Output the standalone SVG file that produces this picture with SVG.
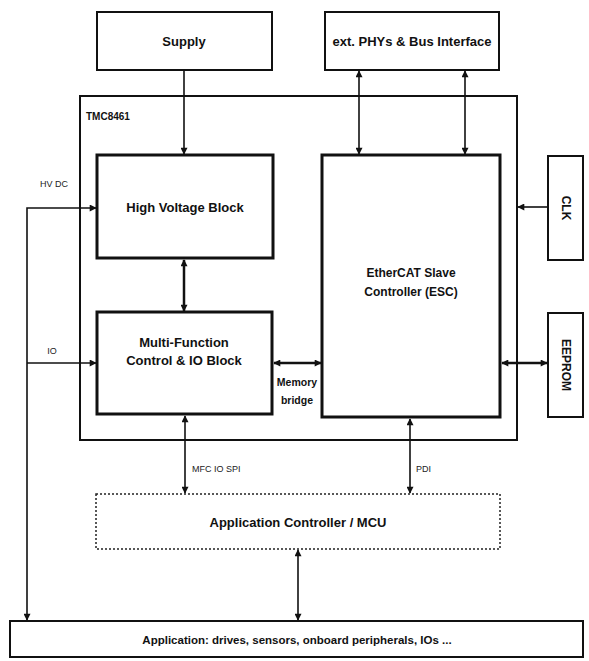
<svg xmlns="http://www.w3.org/2000/svg" width="589" height="661" viewBox="0 0 589 661">
<style>
.box{fill:#fff;stroke:#111;stroke-width:2}
.blk{fill:#fff;stroke:#111;stroke-width:3}
.dot{fill:#fff;stroke:#222;stroke-width:1.5;stroke-dasharray:2 2}
.t{font-family:"Liberation Sans",Arial,sans-serif;font-weight:bold;font-size:12px;fill:#111;text-anchor:middle}
.s{font-family:"Liberation Sans",Arial,sans-serif;font-size:9px;fill:#222;text-anchor:middle}
.c{fill:none;stroke:#111;stroke-width:1.6}
.cb{fill:none;stroke:#111;stroke-width:2.5}
</style>
<defs>
<marker id="ah" viewBox="0 0 10 10" refX="9" refY="5" markerWidth="10" markerHeight="7" markerUnits="userSpaceOnUse" orient="auto-start-reverse">
<path d="M0,0 L10,5 L0,10 Z" fill="#111"/>
</marker>
</defs>
<rect width="589" height="661" fill="#fff"/>
<g id="tmc8461">
<rect x="80" y="96" width="437" height="344" class="box"/>
<text x="86" y="120" class="t" style="text-anchor:start;font-size:10px">TMC8461</text>
</g>
<g id="supply">
<rect x="97" y="12" width="175" height="58" class="box"/>
<text x="184" y="46" class="t" style="font-size:13px">Supply</text>
</g>
<g id="phys">
<rect x="325" y="12" width="174" height="58" class="box"/>
<text x="412" y="46" class="t" style="font-size:13px">ext. PHYs &amp; Bus Interface</text>
</g>
<g id="hv">
<rect x="97" y="155" width="176" height="103" class="blk"/>
<text x="185" y="212" class="t" style="font-size:13px">High Voltage Block</text>
</g>
<g id="mf">
<rect x="97" y="312" width="175" height="102" class="blk"/>
<text x="184" y="347" class="t" style="font-size:13px">Multi-Function</text>
<text x="184" y="365" class="t" style="font-size:13px">Control &amp; IO Block</text>
</g>
<g id="esc">
<rect x="322" y="155" width="178" height="262" class="blk"/>
<text x="411" y="277" class="t">EtherCAT Slave</text>
<text x="411" y="296" class="t">Controller (ESC)</text>
</g>
<g id="clk">
<rect x="548" y="156" width="35" height="104" class="box"/>
<text x="566" y="208" class="t" transform="rotate(90 566 208)" dy="4">CLK</text>
</g>
<g id="eeprom">
<rect x="548" y="313" width="35" height="104" class="box"/>
<text x="566" y="365" class="t" transform="rotate(90 566 365)" dy="4">EEPROM</text>
</g>
<g id="appctrl">
<rect x="96" y="494" width="404" height="55" class="dot"/>
<text x="298" y="527" class="t" style="font-size:13px">Application Controller / MCU</text>
</g>
<g id="app">
<rect x="10" y="621" width="573" height="36" class="box"/>
<text x="297" y="644" class="t" style="font-size:11.5px">Application: drives, sensors, onboard peripherals, IOs ...</text>
</g>
<g id="connectors">
<line x1="184" y1="70" x2="184" y2="154" class="c" marker-end="url(#ah)"/>
<line x1="359" y1="71" x2="359" y2="154" class="c" marker-start="url(#ah)" marker-end="url(#ah)"/>
<line x1="465" y1="71" x2="465" y2="154" class="c" marker-start="url(#ah)" marker-end="url(#ah)"/>
<line x1="548" y1="207" x2="518" y2="207" class="c" marker-end="url(#ah)"/>
<line x1="502" y1="363" x2="547" y2="363" class="cb" marker-start="url(#ah)" marker-end="url(#ah)"/>
<line x1="184" y1="260" x2="184" y2="311" class="cb" marker-start="url(#ah)" marker-end="url(#ah)"/>
<line x1="274" y1="363" x2="321" y2="363" class="cb" marker-start="url(#ah)" marker-end="url(#ah)"/>
<path d="M96,208 H27 V620" class="c" marker-start="url(#ah)" marker-end="url(#ah)"/>
<line x1="27" y1="363" x2="96" y2="363" class="c" marker-end="url(#ah)"/>
<line x1="185" y1="416" x2="185" y2="493" class="c" marker-start="url(#ah)" marker-end="url(#ah)"/>
<line x1="410" y1="419" x2="410" y2="493" class="c" marker-start="url(#ah)" marker-end="url(#ah)"/>
<line x1="298" y1="550" x2="298" y2="620" class="c" marker-start="url(#ah)" marker-end="url(#ah)"/>
<text x="54" y="187" class="s">HV DC</text>
<text x="52" y="354" class="s">IO</text>
<text x="192" y="472" class="s" style="text-anchor:start">MFC IO SPI</text>
<text x="416" y="472" class="s" style="text-anchor:start">PDI</text>
<text x="297" y="386" class="t" style="font-size:10.5px">Memory</text>
<text x="297" y="404" class="t" style="font-size:10.5px">bridge</text>
</g>
</svg>
